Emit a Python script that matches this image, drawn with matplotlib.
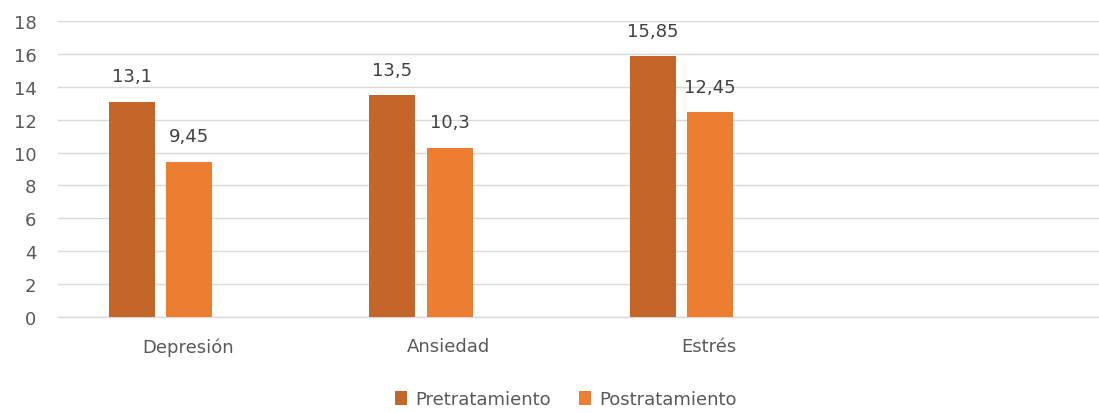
import matplotlib
matplotlib.use("Agg")
import matplotlib.pyplot as plt
import numpy as np

categories = ["Depresión", "Ansiedad", "Estrés", ""]
pre = [13.1, 13.5, 15.85]
post = [9.45, 10.3, 12.45]
series_names = ["Pretratamiento", "Postratamiento"]
yticks = [0, 2, 4, 6, 8, 10, 12, 14, 16, 18]

plt.rcParams['font.family'] = ['DejaVu Sans']

fig = plt.figure(figsize=(10.99, 4.14), dpi=100)
ax = fig.add_axes([0.0528, 0.2319, 0.9472, 0.715])

c_pre = "#C4652A"
c_post = "#ED7D31"
w = 0.177
x = np.arange(len(pre))
b1 = ax.bar(x - 0.215, pre, width=w, color=c_pre, label=series_names[0], zorder=3)
b2 = ax.bar(x + 0.005, post, width=w, color=c_post, label=series_names[1], zorder=3)

def fmt(v):
    return ("%g" % v).replace(".", ",")

for bars, vals in ((b1, pre), (b2, post)):
    for b, v in zip(bars, vals):
        ax.annotate(fmt(v), (b.get_x() + b.get_width() / 2, v), xytext=(0, 14.5),
                    textcoords="offset points", ha="center", va="baseline",
                    fontsize=13, color="#404040")

ax.set_xlim(-0.5, 3.5)
ax.set_ylim(0, 18)
ax.set_yticks(yticks)
ax.set_xticks(np.arange(len(categories)))
ax.set_xticklabels(categories)
ax.tick_params(axis="both", length=0, labelsize=13, labelcolor="#595959")
ax.tick_params(axis="x", pad=14.5)
ax.tick_params(axis="y", pad=15.5)
ax.grid(axis="y", color="#D9D9D9", linewidth=1, zorder=0)
for s in ["top", "right", "left"]:
    ax.spines[s].set_visible(False)
ax.spines["bottom"].set_color("#D9D9D9")
ax.spines["bottom"].set_linewidth(1)

leg = fig.legend(handles=[b1, b2], loc="center", bbox_to_anchor=(0.515, 0.034),
                 ncol=2, frameon=False, fontsize=13, handlelength=0.67, handleheight=0.8,
                 handletextpad=0.45, columnspacing=1.55)
for t in leg.get_texts():
    t.set_color("#595959")

fig.savefig("out.png", dpi=100)
